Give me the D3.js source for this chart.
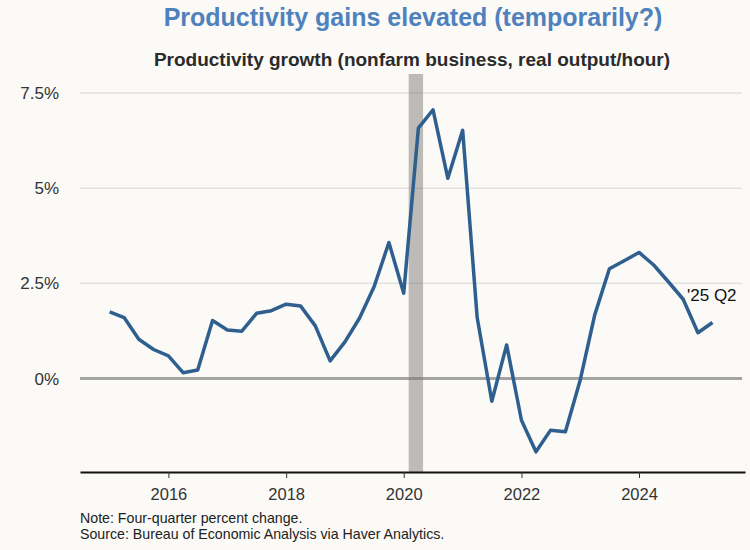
<!DOCTYPE html>
<html>
<head>
<meta charset="utf-8">
<script src="https://cdn.jsdelivr.net/npm/d3@7"></script>
<style>
  html, body { margin: 0; padding: 0; background: #fbfaf7; }
  svg { display: block; font-family: "Liberation Sans", Arial, sans-serif; }
</style>
</head>
<body>
<svg id="chart" width="750" height="550"></svg>
<script>
// ---- data ----
const quarters = [
  "2015Q1","2015Q2","2015Q3","2015Q4",
  "2016Q1","2016Q2","2016Q3","2016Q4",
  "2017Q1","2017Q2","2017Q3","2017Q4",
  "2018Q1","2018Q2","2018Q3","2018Q4",
  "2019Q1","2019Q2","2019Q3","2019Q4",
  "2020Q1","2020Q2","2020Q3","2020Q4",
  "2021Q1","2021Q2","2021Q3","2021Q4",
  "2022Q1","2022Q2","2022Q3","2022Q4",
  "2023Q1","2023Q2","2023Q3","2023Q4",
  "2024Q1","2024Q2","2024Q3","2024Q4",
  "2025Q1","2025Q2"
];
const productivityGrowth = [
  1.75, 1.60, 1.03, 0.76,
  0.59, 0.15, 0.22, 1.52,
  1.27, 1.24, 1.71, 1.78,
  1.95, 1.90, 1.38, 0.46,
  0.96, 1.58, 2.41, 3.57,
  2.24, 6.58, 7.06, 5.26,
  6.52, 1.60, -0.60, 0.88,
  -1.10, -1.93, -1.36, -1.40,
  -0.04, 1.67, 2.88, 3.09,
  3.31, 2.98, 2.54, 2.08,
  1.20, 1.47
];
const recession = ["2020-02-01", "2020-04-30"];
const xTickYears = [2016, 2018, 2020, 2022, 2024];
const yTickValues = [0, 2.5, 5, 7.5];
const yTickLabels = ["0%", "2.5%", "5%", "7.5%"];
const titleText = "Productivity gains elevated (temporarily?)";
const subtitleText = "Productivity growth (nonfarm business, real output/hour)";
const lastLabel = "'25 Q2";
const notes = ["Note: Four-quarter percent change.",
               "Source: Bureau of Economic Analysis via Haver Analytics."];

// ---- build ----
const parseQ = s => new Date(+s.slice(0,4), (+s.slice(5) - 1) * 3, 1);
const data = quarters.map((q, i) => ({ date: parseQ(q), value: productivityGrowth[i] }));

const svg = d3.select("#chart");
const pLeft = 80, pRight = 745, pTop = 74, pBottom = 472;

const x = d3.scaleTime()
  .domain([new Date(2014, 6, 1), new Date(2025, 9, 20)])
  .range([pLeft, pRight]);
const y = d3.scaleLinear().domain([-2.46, 8.0]).range([pBottom, pTop]);

svg.append("rect").attr("width", 750).attr("height", 550).attr("fill", "#fbfaf7");

// gridlines
svg.append("g").selectAll("line")
  .data(yTickValues.filter(v => v !== 0))
  .join("line")
  .attr("x1", pLeft).attr("x2", pRight - 3)
  .attr("y1", d => y(d)).attr("y2", d => y(d))
  .attr("stroke", "#e2e1de").attr("stroke-width", 1.5);

// zero line
svg.append("line")
  .attr("x1", pLeft).attr("x2", pRight - 3)
  .attr("y1", y(0)).attr("y2", y(0))
  .attr("stroke", "#a3a3a1").attr("stroke-width", 3);

// recession shading
const r0 = new Date(recession[0]), r1 = new Date(recession[1]);
svg.append("rect")
  .attr("x", x(r0)).attr("width", x(r1) - x(r0))
  .attr("y", pTop).attr("height", pBottom - pTop)
  .attr("fill", "rgb(125,124,120)").attr("fill-opacity", 0.5);

// y labels
svg.append("g").selectAll("text")
  .data(yTickValues)
  .join("text")
  .attr("x", 59).attr("y", d => y(d))
  .attr("dy", "0.36em")
  .attr("text-anchor", "end")
  .attr("font-size", 17).attr("fill", "#333")
  .text((d, i) => yTickLabels[i]);

// x axis
const xAxis = d3.axisBottom(x)
  .tickValues(xTickYears.map(yr => new Date(yr, 0, 1)))
  .tickFormat(d3.timeFormat("%Y"))
  .tickSize(6).tickSizeOuter(0);
const gx = svg.append("g").attr("transform", `translate(0,${pBottom})`).call(xAxis);
gx.select(".domain").attr("stroke", "#111").attr("stroke-width", 2.2);
gx.selectAll(".tick line").attr("stroke", "#333").attr("stroke-width", 1);
gx.selectAll(".tick text").attr("font-size", 16.5).attr("fill", "#333")
  .attr("font-family", "Liberation Sans, Arial, sans-serif").attr("dy", "1.15em");

// line
const line = d3.line().x(d => x(d.date)).y(d => y(d.value));
svg.append("path").datum(data)
  .attr("d", line)
  .attr("fill", "none")
  .attr("stroke", "#2e5f8f")
  .attr("stroke-width", 3.5)
  .attr("stroke-linejoin", "round");

// last label
svg.append("text")
  .attr("x", 687).attr("y", 301)
  .attr("font-size", 17).attr("fill", "#111")
  .text(lastLabel);

// titles
svg.append("text")
  .attr("x", 413).attr("y", 26)
  .attr("text-anchor", "middle")
  .attr("font-size", 25).attr("font-weight", "bold").attr("fill", "#4f81bd")
  .text(titleText);
svg.append("text")
  .attr("x", 412).attr("y", 66)
  .attr("text-anchor", "middle")
  .attr("font-size", 19).attr("font-weight", "bold").attr("fill", "#2b2b2b")
  .text(subtitleText);

// notes
svg.append("g").selectAll("text")
  .data(notes)
  .join("text")
  .attr("x", 80).attr("y", (d, i) => 523 + i * 16)
  .attr("font-size", 14.2).attr("fill", "#222")
  .text(d => d);
</script>
</body>
</html>
